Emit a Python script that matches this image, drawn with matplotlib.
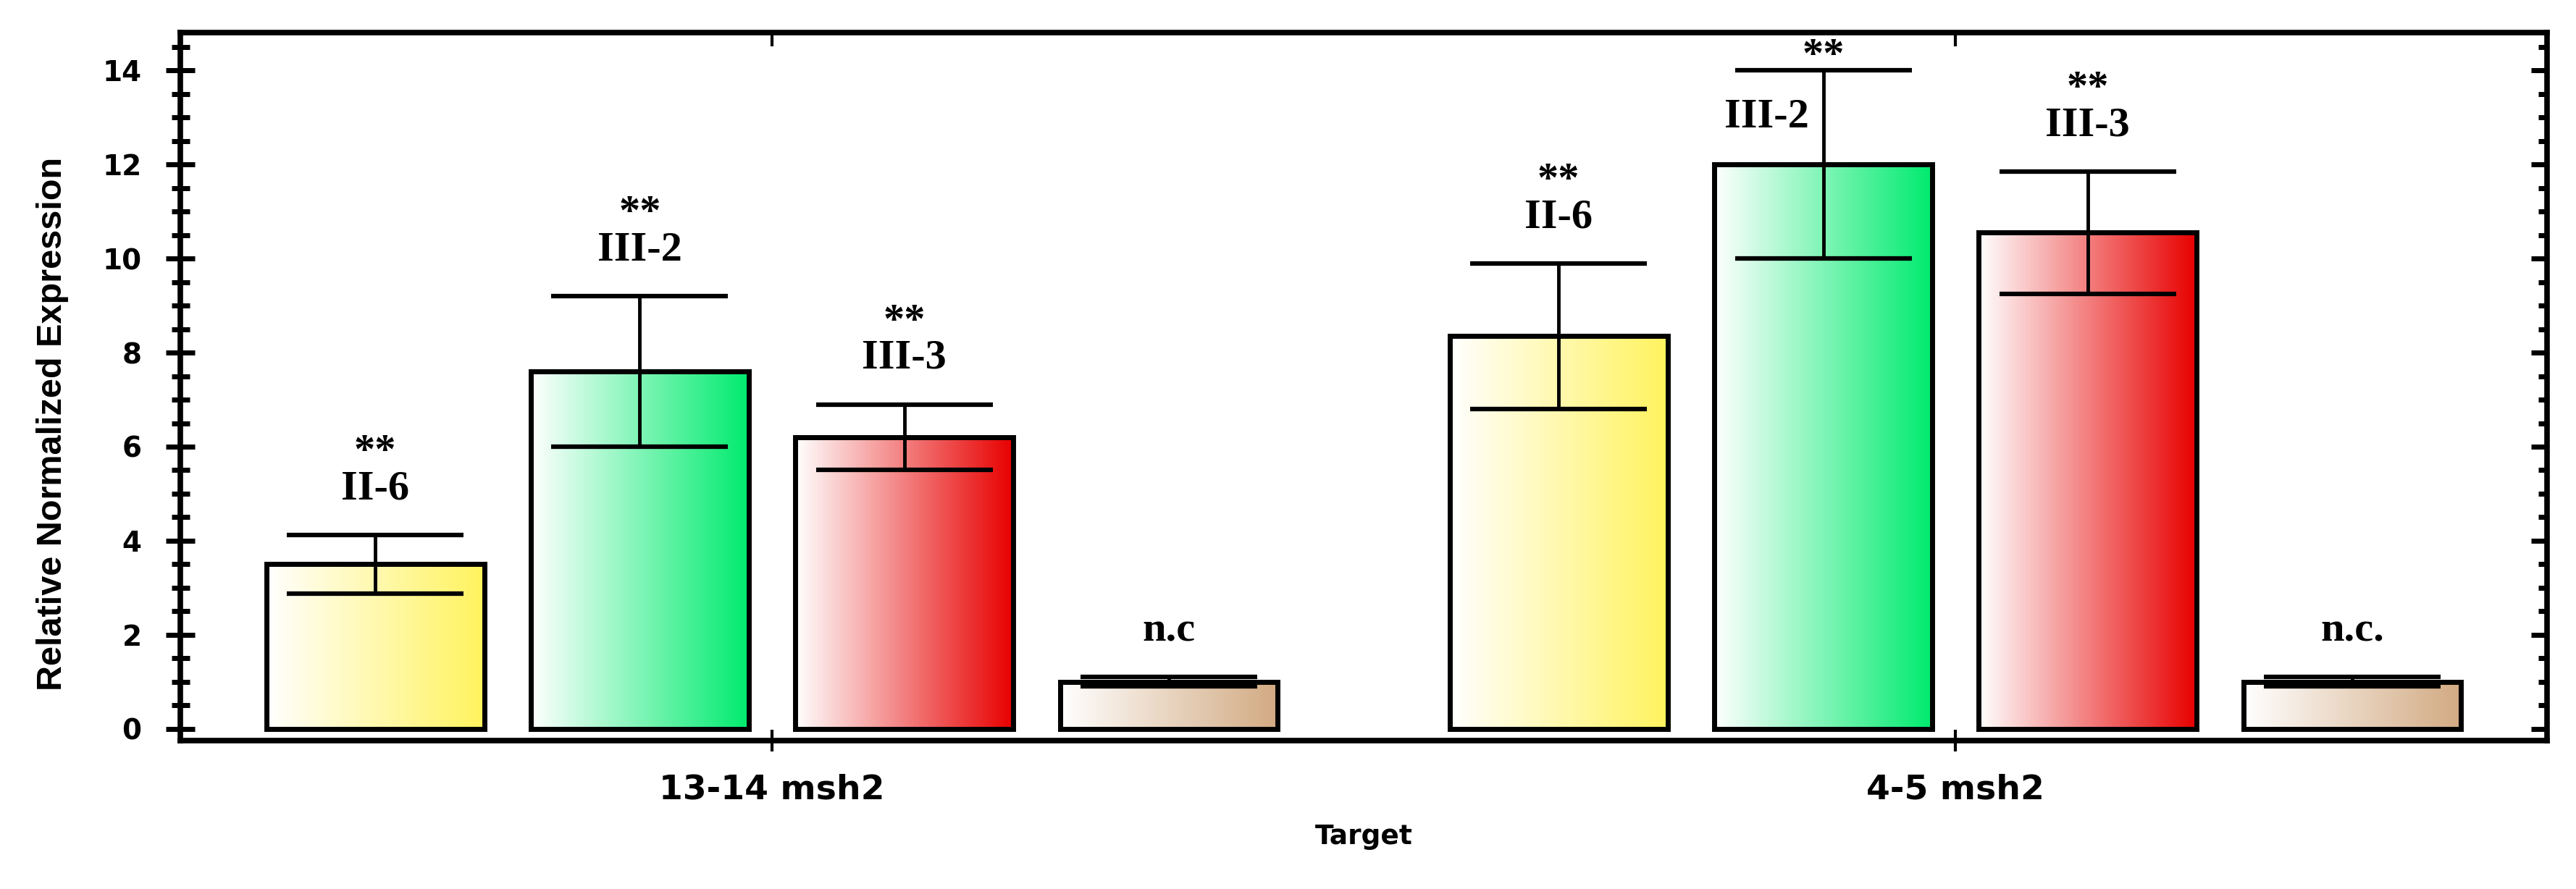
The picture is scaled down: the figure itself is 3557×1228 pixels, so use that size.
import matplotlib.pyplot as plt
import numpy as np
from matplotlib.colors import LinearSegmentedColormap
from matplotlib.ticker import MultipleLocator

# data
targets = ["13-14 msh2", "4-5 msh2"]
samples = ["II-6", "III-2", "III-3", "n.c"]
means = [[3.5, 7.6, 6.2, 1.0],
         [8.35, 12.0, 10.55, 1.0]]
errors = [[0.62, 1.6, 0.7, 0.1],
          [1.55, 2.0, 1.3, 0.1]]
labels = [["II-6", "III-2", "III-3", "n.c"],
          ["II-6", "III-2", "III-3", "n.c."]]
stars = [["**", "**", "**", ""],
         ["**", "**", "**", ""]]
end_colors = ["#fff35e", "#00eb6e", "#e80000", "#d2aa82"]

fig = plt.figure(figsize=(35.57, 12.28), dpi=100)
ax = fig.add_axes([0.070, 0.167, 0.9188, 0.796])

x = np.arange(len(targets))
step = 0.2235
width = 0.184
serif = ['Liberation Serif', 'DejaVu Serif']

for g in range(len(targets)):
    for s in range(len(samples)):
        xs = x[g] + (s - 1.5) * step
        bar = ax.bar(xs, means[g][s], width, facecolor='none', edgecolor='black',
                     linewidth=5, zorder=3)[0]
        cmap = LinearSegmentedColormap.from_list('g', ['white', end_colors[s]])
        grad = np.linspace(0, 1, 256).reshape(1, -1)
        im = ax.imshow(grad, cmap=cmap, aspect='auto', zorder=2,
                       extent=(bar.get_x(), bar.get_x() + bar.get_width(), 0, bar.get_height()))
        im.set_clip_path(bar)
        ax.errorbar(xs, means[g][s], yerr=errors[g][s], fmt='none', ecolor='black',
                    elinewidth=3.5, capsize=88, capthick=4.5, zorder=4)

        top = means[g][s] + errors[g][s]
        if g == 1 and s == 1:
            # label sits left of the error bar, below the cap
            ax.text(xs - 0.048, top - 1.0, labels[g][s], ha='center', va='center',
                    fontsize=42, fontweight='bold', family=serif, zorder=5)
            ax.text(xs, top + 0.3, stars[g][s], ha='center', va='center',
                    fontsize=42, fontweight='bold', family=serif, zorder=5)
        else:
            ax.text(xs, top + 0.98, labels[g][s], ha='center', va='center',
                    fontsize=42, fontweight='bold', family=serif, zorder=5)
            if stars[g][s]:
                ax.text(xs, top + 1.75, stars[g][s], ha='center', va='center',
                        fontsize=42, fontweight='bold', family=serif, zorder=5)

ax.set_xlim(-0.5, 1.5)
ax.set_ylim(-0.25, 14.8)

for sp in ax.spines.values():
    sp.set_linewidth(5.5)

ax.set_xticks(x)
ax.set_xticklabels(targets, fontsize=34, fontweight='bold')
ax.tick_params(axis='x', direction='inout', length=22, width=3, pad=22)

ax.yaxis.set_major_locator(MultipleLocator(2))
ax.yaxis.set_minor_locator(MultipleLocator(0.5))
ax.tick_params(axis='y', which='major', direction='inout', length=29, width=5,
               pad=24, labelsize=28)
ax.tick_params(axis='y', which='minor', direction='inout', length=18, width=5)
for t in ax.get_yticklabels():
    t.set_fontweight('bold')

top_ax = ax.secondary_xaxis('top')
top_ax.set_xticks(x)
top_ax.set_xticklabels([])
top_ax.tick_params(direction='in', length=14, width=3)

right_ax = ax.secondary_yaxis('right')
right_ax.yaxis.set_major_locator(MultipleLocator(2))
right_ax.yaxis.set_minor_locator(MultipleLocator(0.5))
right_ax.set_yticklabels([])
right_ax.tick_params(which='major', direction='in', length=16, width=5)
right_ax.tick_params(which='minor', direction='in', length=9, width=5)

ax.set_ylabel('Relative Normalized Expression', fontsize=35, fontweight='bold',
              family=['Liberation Sans', 'DejaVu Sans'])
ax.yaxis.set_label_coords(-0.047, 0.448)
ax.set_xlabel('Target', fontsize=27, fontweight='bold')
ax.xaxis.set_label_coords(0.5, -0.118)

fig.savefig('out.png', dpi=100)
